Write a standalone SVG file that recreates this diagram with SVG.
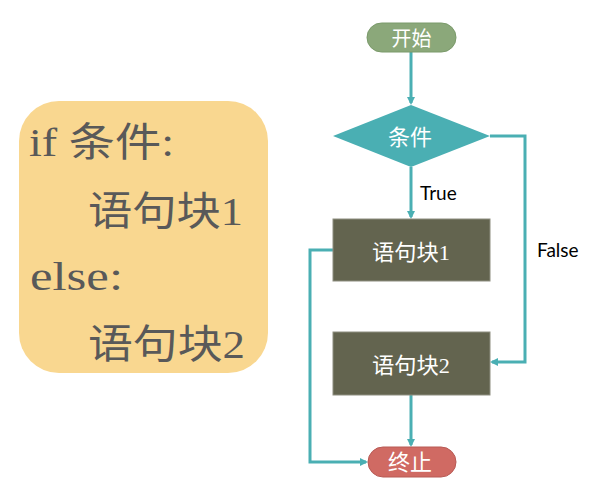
<svg xmlns="http://www.w3.org/2000/svg" width="595" height="494" viewBox="0 0 595 494">
<style>
.code{font-family:"Liberation Serif","Noto Sans CJK SC",serif;font-size:40px;fill:#595959}
.lbl{font-family:"Liberation Serif","Noto Sans CJK SC",serif;font-size:22px;fill:#ffffff;text-anchor:middle}
.edge{font-family:"Lato","Liberation Sans",sans-serif;font-size:19px;fill:#000000}
.conn{fill:none;stroke:#4AAFB3;stroke-width:3}
</style>
<defs>
<marker id="ah" markerWidth="8" markerHeight="8" refX="6" refY="4" orient="auto" markerUnits="userSpaceOnUse" viewBox="0 0 8 8">
<path d="M0,0 L8,4 L0,8 Z" fill="#4AAFB3"/>
</marker>
</defs>
<rect width="595" height="494" fill="#ffffff"/>
<g id="code">
<rect x="19" y="101" width="249" height="272" rx="40" fill="#F9D790"/>
<text class="code" x="29" y="156" textLength="145" lengthAdjust="spacingAndGlyphs">if 条件:</text>
<text class="code" x="88" y="225" textLength="155" lengthAdjust="spacingAndGlyphs">语句块1</text>
<text class="code" x="30" y="290" textLength="93" lengthAdjust="spacingAndGlyphs">else:</text>
<text class="code" x="88" y="358" textLength="157" lengthAdjust="spacingAndGlyphs">语句块2</text>
</g>
<g id="connectors">
<path class="conn" d="M411,52 L411,103" marker-end="url(#ah)"/>
<path class="conn" d="M411,167 L411,217" marker-end="url(#ah)"/>
<path class="conn" d="M490,136 L525,136 L525,362 L492,362" marker-end="url(#ah)"/>
<path class="conn" d="M411,395 L411,445" marker-end="url(#ah)"/>
<path class="conn" d="M333,250 L310,250 L310,462 L366,462" marker-end="url(#ah)"/>
<text class="edge" x="420" y="200">True</text>
<text class="edge" x="537" y="257">False</text>
</g>
<g id="start">
<rect x="367" y="23" width="89" height="29" rx="14.5" fill="#8BA87A" stroke="#7A9A6A" stroke-width="1"/>
<text class="lbl" x="411.5" y="46" style="font-size:20px">开始</text>
</g>
<g id="cond">
<polygon points="411,105 490,136 411,167 333,136" fill="#4AAFB3"/>
<text class="lbl" x="410" y="145">条件</text>
</g>
<g id="block1">
<rect x="333" y="219" width="157" height="62" fill="#63644F" stroke="#8E8E80" stroke-width="1"/>
<text class="lbl" x="411" y="260" textLength="78" lengthAdjust="spacingAndGlyphs">语句块1</text>
</g>
<g id="block2">
<rect x="333" y="332" width="157" height="63" fill="#63644F" stroke="#8E8E80" stroke-width="1"/>
<text class="lbl" x="411" y="373" textLength="78" lengthAdjust="spacingAndGlyphs">语句块2</text>
</g>
<g id="end">
<rect x="368" y="447" width="88" height="30" rx="15" fill="#D06A63" stroke="#B85A55" stroke-width="1"/>
<text class="lbl" x="410" y="470">终止</text>
</g>
</svg>
